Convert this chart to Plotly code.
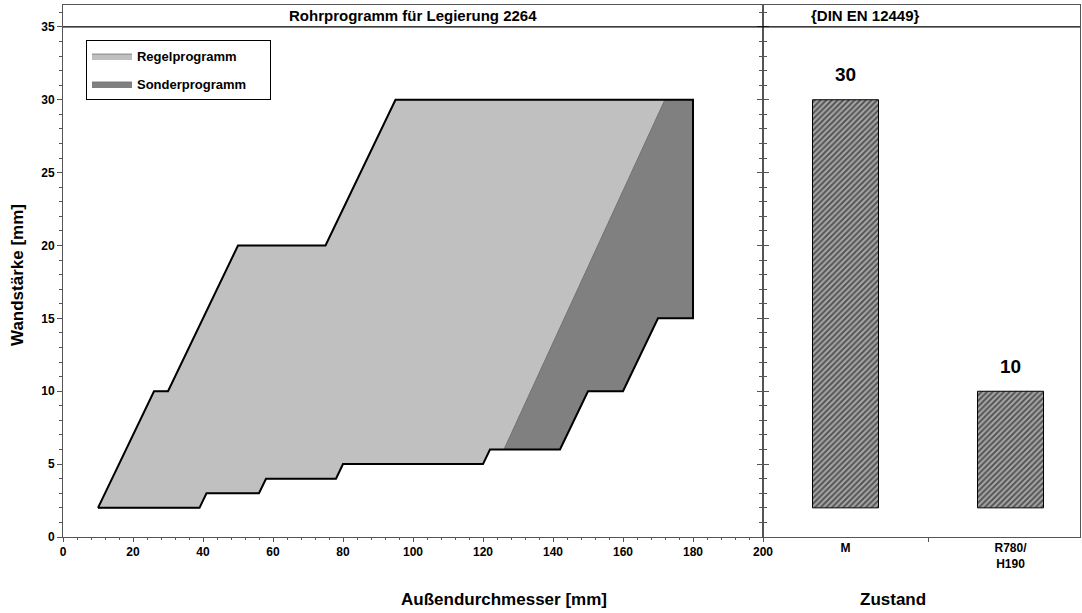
import plotly.graph_objects as go

# ---- data ----
regel_x = [10, 26, 30, 50, 75, 95, 172, 126, 122, 120, 80, 78, 58, 56, 41, 39, 10]
regel_y = [2, 10, 10, 20, 20, 30, 30, 6, 6, 5, 5, 4, 4, 3, 3, 2, 2]
sonder_x = [126, 172, 180, 180, 170, 160, 150, 142, 126]
sonder_y = [6, 30, 30, 15, 15, 10, 10, 6, 6]

zustand = ["M", "R780/<br>H190"]
wand_min = [2, 2]
wand_max = [30, 10]

x_ticks = list(range(0, 201, 20))
y_ticks = list(range(0, 36, 5))

# outer outline (without the inner boundary between both areas)
outline_x = regel_x[:6] + sonder_x[1:] + regel_x[8:]
outline_y = regel_y[:6] + sonder_y[1:] + regel_y[8:]

FONT = "Liberation Sans, Arial, sans-serif"
AX = "#555555"
PAD = "\u00a0" * 5

fig = go.Figure()
fig.add_trace(go.Scatter(
    x=regel_x, y=regel_y, fill="toself", fillcolor="#c0c0c0", mode="lines",
    line=dict(color="#707070", width=0.8), name="Regelprogramm" + PAD,
    legendgroup="a", xaxis="x", yaxis="y"))
fig.add_trace(go.Scatter(
    x=sonder_x, y=sonder_y, fill="toself", fillcolor="#808080", mode="lines",
    line=dict(color="#707070", width=0.8), name="Sonderprogramm" + PAD,
    legendgroup="b", xaxis="x", yaxis="y"))
fig.add_trace(go.Scatter(
    x=outline_x, y=outline_y, mode="lines", line=dict(color="#000000", width=2),
    showlegend=False, hoverinfo="skip", xaxis="x", yaxis="y"))

fig.add_trace(go.Bar(
    x=zustand, y=[hi - lo for hi, lo in zip(wand_max, wand_min)], base=wand_min,
    width=0.4, xaxis="x2", yaxis="y2", showlegend=False,
    marker=dict(color="#9a9a9a",
                pattern=dict(shape="/", fgcolor="#000000", bgcolor="#a8a8a8",
                             size=4, solidity=0.5),
                line=dict(color="#000000", width=1))))

for cat, hi in zip(zustand, wand_max):
    fig.add_annotation(x=cat, y=hi, xref="x2", yref="y2", text=str(hi),
                       showarrow=False, yshift=25, yanchor="middle",
                       font=dict(family=FONT, size=19, color="#000", weight="bold"))

split = 700 / 1017

fig.update_layout(
    width=1082, height=613,
    margin=dict(l=63, r=2, t=5, b=76, autoexpand=False),
    paper_bgcolor="white", plot_bgcolor="white",
    font=dict(family=FONT, size=12, color="#000"),
    showlegend=True,
    legend=dict(x=0.0226, y=0.934, xanchor="left", yanchor="top",
                bordercolor="#000", borderwidth=1, bgcolor="white",
                tracegroupgap=8, traceorder="grouped", itemwidth=40,
                font=dict(family=FONT, size=13, color="#000", weight="bold")),
    xaxis=dict(domain=[0, split], range=[0, 200], tickvals=x_ticks,
               ticks="outside", ticklen=4, tickcolor=AX, automargin=False,
               minor=dict(dtick=4, ticklen=2, tickcolor=AX, ticks="outside"),
               showline=True, linecolor=AX, linewidth=1, mirror=True,
               showgrid=False, zeroline=False, anchor="y",
               tickfont=dict(family=FONT, size=12, weight="bold")),
    yaxis=dict(domain=[0, 1], range=[0, 36.5], tickvals=y_ticks,
               ticks="outside", ticklen=5, tickcolor=AX, automargin=False,
               minor=dict(dtick=1, ticklen=3, tickcolor=AX, ticks="outside"),
               showline=True, linecolor=AX, linewidth=1, mirror="ticks",
               showgrid=False, zeroline=False, anchor="x",
               tickfont=dict(family=FONT, size=12, weight="bold")),
    xaxis2=dict(domain=[split, 1], range=[-0.5, 1.421], type="category",
                tickson="boundaries", ticks="outside", ticklen=4, tickcolor=AX,
                automargin=False,
                showline=True, linecolor=AX, linewidth=1, mirror=True,
                showgrid=False, zeroline=False, anchor="y2",
                tickfont=dict(family=FONT, size=12, weight="bold")),
    yaxis2=dict(domain=[0, 1], range=[0, 36.5], matches="y", anchor="x2",
                tickvals=y_ticks, showticklabels=False, automargin=False,
                ticks="outside", ticklen=5, tickcolor=AX,
                minor=dict(dtick=1, ticklen=3, tickcolor=AX, ticks="outside"),
                showline=True, linecolor=AX, linewidth=1, mirror=True,
                showgrid=False, zeroline=False),
)

# title band separator across both panels
fig.add_shape(type="line", xref="paper", yref="y", x0=0, x1=1, y0=35, y1=35,
              line=dict(color="#000", width=1.2))

fig.add_annotation(x=100, y=35.75, xref="x", yref="y",
                   text="Rohrprogramm für Legierung 2264", showarrow=False,
                   font=dict(family=FONT, size=15, weight="bold"))
fig.add_annotation(x=(split + 1) / 2, y=35.75, xref="paper", yref="y",
                   text="{DIN EN 12449}", showarrow=False,
                   font=dict(family=FONT, size=15, weight="bold"))

fig.add_annotation(x=0.330, y=-0.118, xref="paper", yref="paper",
                   text="Außendurchmesser [mm]", showarrow=False,
                   yanchor="middle", font=dict(family=FONT, size=17, weight="bold"))
fig.add_annotation(x=0.8505, y=-0.118, xref="paper", yref="paper",
                   text="Zustand", showarrow=False,
                   yanchor="middle", font=dict(family=FONT, size=17, weight="bold"))
fig.add_annotation(x=-0.0442, y=0.4925, xref="paper", yref="paper",
                   text="Wandstärke [mm]", showarrow=False, textangle=-90,
                   xanchor="center", yanchor="middle",
                   font=dict(family=FONT, size=17, weight="bold"))

fig.write_html("out.html", config={"displayModeBar": False},
               post_script="document.body.style.margin='0';document.body.style.overflow='hidden';")
